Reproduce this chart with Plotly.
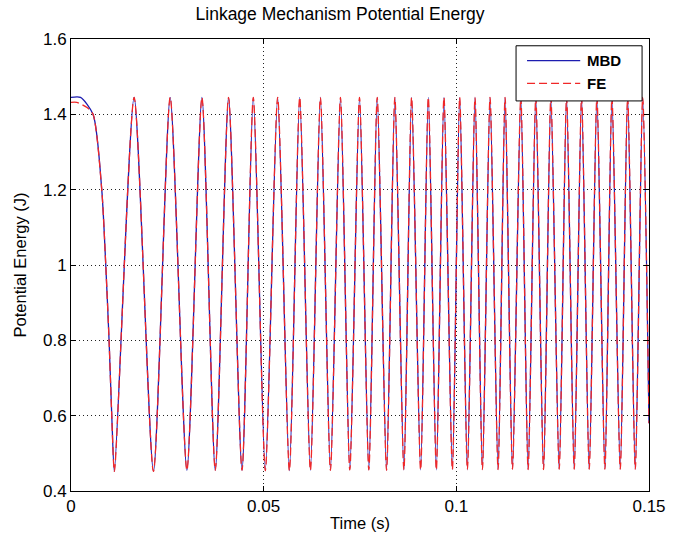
import plotly.graph_objects as go

# Time (s) and potential energy (J): start-up decay, then alternating troughs/peaks
t_mbd = [0.0, 0.00247, 0.00572, 0.00798, 0.00902, 0.00988, 0.01058,
         0.01126, 0.01638, 0.02140, 0.02574, 0.03008, 0.03398, 0.03744, 0.04089,
         0.04438, 0.04731, 0.05043, 0.05363, 0.05667, 0.05935, 0.06213, 0.06473,
         0.06733, 0.06993, 0.07235, 0.07487, 0.07729, 0.07947, 0.08189, 0.08405,
         0.08639, 0.08839, 0.09073, 0.09273, 0.09481, 0.09679, 0.09897, 0.10087,
         0.10287, 0.10485, 0.10677, 0.10875, 0.11083, 0.11265, 0.11457, 0.11673,
         0.11863, 0.12062, 0.12263, 0.12453, 0.12669, 0.12861, 0.13059, 0.13250,
         0.13448, 0.13648, 0.13856, 0.14038, 0.14254, 0.14446, 0.14644, 0.14836,
         0.15000]
e_mbd = [1.445, 1.445, 1.400, 1.200, 1.000, 0.800, 0.600,
         0.452, 1.445, 0.452, 1.445, 0.455, 1.445, 0.455, 1.445,
         0.455, 1.445, 0.454, 1.445, 0.454, 1.445, 0.455, 1.445,
         0.455, 1.445, 0.456, 1.445, 0.456, 1.445, 0.455, 1.445,
         0.456, 1.445, 0.456, 1.445, 0.456, 1.445, 0.457, 1.445,
         0.457, 1.445, 0.457, 1.445, 0.457, 1.445, 0.458, 1.445,
         0.457, 1.445, 0.457, 1.445, 0.458, 1.445, 0.458, 1.445,
         0.458, 1.445, 0.458, 1.445, 0.458, 1.445, 0.458, 1.445,
         0.580]

t_fe = [0.0, 0.00148, 0.00416, 0.00572, 0.00798, 0.00902, 0.00988, 0.01058,
        0.01126, 0.01638, 0.02140, 0.02574, 0.03008, 0.03398, 0.03744, 0.04089,
        0.04438, 0.04731, 0.05043, 0.05363, 0.05667, 0.05935, 0.06213, 0.06473,
        0.06733, 0.06993, 0.07235, 0.07487, 0.07729, 0.07947, 0.08189, 0.08405,
        0.08639, 0.08839, 0.09073, 0.09273, 0.09481, 0.09679, 0.09897, 0.10087,
        0.10287, 0.10485, 0.10677, 0.10875, 0.11083, 0.11265, 0.11457, 0.11673,
        0.11863, 0.12062, 0.12263, 0.12453, 0.12669, 0.12861, 0.13059, 0.13250,
        0.13448, 0.13648, 0.13856, 0.14038, 0.14254, 0.14446, 0.14644, 0.14836,
        0.15000]
e_fe = [1.432, 1.432, 1.418, 1.400, 1.200, 1.000, 0.800, 0.600,
        0.452, 1.445, 0.452, 1.445, 0.455, 1.445, 0.455, 1.445,
        0.455, 1.445, 0.454, 1.445, 0.454, 1.445, 0.455, 1.445,
        0.455, 1.445, 0.456, 1.445, 0.456, 1.445, 0.455, 1.445,
        0.456, 1.445, 0.456, 1.445, 0.456, 1.445, 0.457, 1.445,
        0.457, 1.445, 0.457, 1.445, 0.457, 1.445, 0.458, 1.445,
        0.457, 1.445, 0.457, 1.445, 0.458, 1.445, 0.458, 1.445,
        0.458, 1.445, 0.458, 1.445, 0.458, 1.445, 0.458, 1.445,
        0.580]

x_ticks = [0, 0.05, 0.1, 0.15]
x_tick_text = ["0", "0.05", "0.1", "0.15"]
y_ticks = [0.4, 0.6, 0.8, 1.0, 1.2, 1.4, 1.6]
y_tick_text = ["0.4", "0.6", "0.8", "1", "1.2", "1.4", "1.6"]
series_names = ["MBD", "FE"]

FONT = "Liberation Sans, Arial, sans-serif"
BLUE = "#1c1cb0"
RED = "#f02828"
RED_DASH = "8px,4px"

fig = go.Figure()
fig.add_trace(go.Scatter(x=t_mbd, y=e_mbd, mode="lines", name=series_names[0],
                         line=dict(color=BLUE, width=1.3, shape="spline", smoothing=0.7)))
fig.add_trace(go.Scatter(x=t_fe, y=e_fe, mode="lines", name=series_names[1],
                         line=dict(color=RED, width=1.3, dash=RED_DASH,
                                   shape="spline", smoothing=0.7)))

axis_common = dict(
    showline=True, linecolor="black", linewidth=1, mirror="ticks",
    ticks="inside", ticklen=5, tickcolor="black",
    showgrid=True, gridcolor="#222222", gridwidth=1, griddash="1px,3px",
    zeroline=False, automargin=False,
    tickfont=dict(family=FONT, size=17, color="black"),
)

fig.update_xaxes(range=[0, 0.15], tickvals=x_ticks, ticktext=x_tick_text,
                 title=dict(text="Time (s)", font=dict(family=FONT, size=16.5, color="black"), standoff=2),
                 **axis_common)
fig.update_yaxes(range=[0.4, 1.6], tickvals=y_ticks, ticktext=y_tick_text,
                 title=dict(text="Potential Energy (J)", font=dict(family=FONT, size=16.5, color="black"), standoff=12),
                 **axis_common)

# MATLAB-style legend box (top right, inside the axes)
shapes = [
    dict(type="rect", xref="paper", yref="paper", x0=0.770, x1=0.988, y0=0.863, y1=0.985,
         line=dict(color="black", width=1), fillcolor="white", layer="above"),
    dict(type="line", xref="paper", yref="paper", x0=0.789, x1=0.881, y0=0.952, y1=0.952,
         line=dict(color=BLUE, width=1.3), layer="above"),
    dict(type="line", xref="paper", yref="paper", x0=0.789, x1=0.881, y0=0.902, y1=0.902,
         line=dict(color=RED, width=1.3, dash=RED_DASH), layer="above"),
]
annotations = [
    dict(xref="paper", yref="paper", x=0.889, y=0.952, text=series_names[0], showarrow=False,
         xanchor="left", yanchor="middle",
         font=dict(family=FONT, size=15, color="black", weight="bold")),
    dict(xref="paper", yref="paper", x=0.889, y=0.902, text=series_names[1], showarrow=False,
         xanchor="left", yanchor="middle",
         font=dict(family=FONT, size=15, color="black", weight="bold")),
]

fig.update_layout(
    width=680, height=538,
    margin=dict(l=71, r=31, t=39, b=47, autoexpand=False),
    paper_bgcolor="white", plot_bgcolor="white",
    title=dict(text="Linkage Mechanism Potential Energy", x=0.5, xanchor="center",
               yref="container", y=0.975, yanchor="middle",
               font=dict(family=FONT, size=17.5, color="black")),
    shapes=shapes, annotations=annotations,
    showlegend=False,
)

fig.write_html("out.html", config={"displayModeBar": False},
               post_script="document.body.style.margin='0px';")
